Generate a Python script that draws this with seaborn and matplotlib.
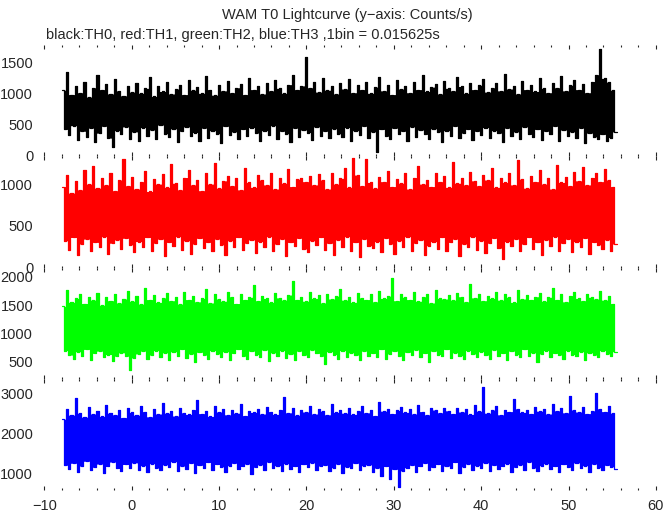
# ==================================
# WAM T0 LIGHTCURVE (4 energy bands)
# ==================================
import numpy as np
import matplotlib
matplotlib.use("Agg")
import matplotlib.pyplot as plt
import seaborn as sns

# ==================================
# DATA (upper / lower envelope per 0.5 s column, counts/s)
# ==================================
t_start = -8.0
t_end = 55.5

th0_hi = [1050, 1340, 980, 1120, 1010, 1180, 940, 1090, 1300, 1060, 1150, 990, 1230, 1040, 960, 1110,
          1020, 1170, 1000, 1080, 1260, 950, 1120, 1030, 1190, 990, 1070, 1140, 980, 1210, 1050, 1100,
          1000, 1280, 1060, 970, 1130, 1040, 1200, 1010, 1090, 1150, 980, 1240, 1060, 1110, 990, 1170,
          1040, 1220, 1080, 1000, 1140, 1300, 1060, 1120, 1580, 1090, 1180, 1020, 1250, 1050, 1110, 990,
          1160, 1070, 1230, 1010, 1130, 1060, 1190, 1000, 1100, 1270, 1040, 1140, 980, 1210, 1070, 1120,
          1010, 1180, 1060, 1290, 1030, 1100, 1150, 990, 1200, 1080, 1040, 1260, 1110, 1000, 1170, 1060,
          1130, 1230, 1020, 1090, 1160, 1040, 1310, 1070, 1120, 990, 1200, 1060, 1140, 1030, 1250, 1080,
          1010, 1170, 1090, 1280, 1040, 1130, 1220, 1060, 1150, 1010, 1190, 1300, 1710, 1240, 1180, 1050]
th0_lo = [420, 330, 480, 250, 390, 300, 440, 210, 360, 470, 280, 130, 400, 340, 460, 270,
          380, 230, 450, 320, 410, 260, 490, 350, 300, 430, 220, 390, 460, 310, 370, 240,
          440, 290, 400, 350, 200, 470, 330, 380, 260, 420, 310, 450, 360, 240, 400, 330,
          480, 270, 390, 350, 220, 440, 300, 410, 370, 250, 460, 320, 390, 280, 430, 350,
          300, 450, 240, 400, 330, 470, 280, 380, 60, 420, 310, 260, 440, 350, 390, 230,
          460, 300, 410, 340, 270, 430, 380, 210, 400, 320, 470, 290, 360, 420, 250, 390,
          330, 450, 280, 400, 360, 220, 440, 310, 380, 270, 460, 340, 300, 420, 250, 390,
          350, 470, 230, 410, 320, 380, 280, 440, 200, 360, 300, 270, 340, 230, 290, 380]

th1_hi = [980, 1120, 900, 1050, 940, 1180, 1010, 1230, 960, 1080, 1000, 1150, 930, 1060, 1310, 990,
          1100, 950, 1040, 1170, 920, 1070, 1010, 1130, 970, 1250, 1020, 940, 1090, 1180, 1000, 1060,
          930, 1140, 1010, 1270, 960, 1050, 1110, 990, 1080, 940, 1200, 1030, 970, 1120, 1060, 1000,
          1150, 950, 1090, 1020, 1190, 980, 1070, 1080, 1040, 1110, 1000, 1130, 1060, 950, 1140, 1010,
          1080, 1210, 970, 1330, 1120, 990, 1320, 1030, 960, 1100, 1040, 1170, 980, 1070, 1020, 1140,
          950, 1090, 1230, 1010, 1060, 980, 1150, 1040, 1110, 970, 1280, 1020, 1080, 1000, 1160, 1050,
          990, 1120, 1060, 1210, 970, 1090, 1030, 1140, 1000, 1300, 1070, 960, 1110, 1040, 1180, 1010,
          1080, 950, 1240, 1030, 1100, 990, 1160, 1050, 1220, 1000, 1090, 1140, 1040, 1190, 1060, 980]
th1_lo = [320, 210, 360, 150, 280, 340, 190, 300, 250, 370, 160, 290, 330, 220, 350, 270,
          180, 310, 240, 360, 200, 290, 340, 130, 300, 260, 370, 210, 320, 160, 280, 350,
          230, 300, 190, 340, 270, 150, 320, 250, 360, 210, 290, 330, 170, 310, 240, 370,
          200, 280, 340, 140, 300, 260, 350, 220, 180, 320, 270, 360, 210, 290, 150, 330,
          250, 370, 200, 300, 120, 340, 260, 230, 310, 180, 350, 280, 160, 320, 240, 370,
          200, 290, 330, 150, 260, 310, 220, 360, 190, 300, 340, 140, 280, 250, 370, 210,
          320, 170, 290, 350, 230, 100, 310, 260, 340, 190, 280, 360, 220, 300, 150, 330,
          260, 370, 200, 290, 340, 180, 310, 240, 350, 160, 300, 270, 220, 330, 190, 280]

th2_hi = [1480, 1760, 1550, 1620, 1700, 1530, 1650, 1590, 1720, 1500, 1640, 1580, 1690, 1540, 1610, 1750,
          1570, 1660, 1520, 1800, 1600, 1680, 1550, 1630, 1710, 1580, 1650, 1520, 1740, 1600, 1670, 1560,
          1620, 1780, 1540, 1690, 1610, 1570, 1730, 1650, 1530, 1700, 1600, 1640, 1850, 1580, 1660, 1620,
          1550, 1710, 1630, 1590, 1680, 1920, 1600, 1650, 1570, 1740, 1620, 1680, 1540, 1700, 1610, 1660,
          1780, 1590, 1640, 1550, 1720, 1630, 1600, 1690, 1560, 1750, 1620, 1660, 1980, 1580, 1700, 1640,
          1600, 1730, 1570, 1650, 1690, 1540, 1760, 1620, 1610, 1680, 1590, 1720, 1650, 1560, 1880, 1630,
          1700, 1580, 1660, 1620, 1740, 1590, 1690, 1640, 1550, 1770, 1610, 1680, 1600, 1650, 1720, 1570,
          1640, 1810, 1600, 1690, 1560, 1670, 1730, 1620, 1580, 1700, 1640, 1610, 1750, 1590, 1660, 1530]
th2_lo = [700, 620, 560, 680, 600, 720, 540, 650, 690, 580, 630, 520, 600, 660, 600, 360,
          570, 640, 690, 550, 620, 700, 590, 660, 530, 680, 610, 720, 570, 640, 500, 670,
          620, 560, 700, 640, 590, 680, 530, 650, 720, 600, 560, 690, 630, 580, 710, 520,
          660, 610, 700, 570, 640, 540, 690, 620, 580, 710, 650, 600, 470, 680, 630, 560,
          700, 590, 660, 620, 540, 690, 610, 650, 580, 720, 560, 640, 690, 600, 530, 670,
          620, 710, 580, 650, 500, 690, 630, 600, 720, 570, 660, 610, 550, 700, 640, 590,
          680, 620, 560, 710, 600, 650, 540, 690, 630, 580, 720, 610, 660, 490, 640, 700,
          590, 650, 620, 560, 700, 630, 600, 680, 540, 660, 620, 580, 700, 640, 600, 680]

th3_hi = [2350, 2600, 2450, 2880, 2500, 2400, 2650, 2480, 2550, 2420, 2700, 2500, 2460, 2580, 2390, 2620,
          2520, 2450, 2680, 2540, 2410, 2600, 2480, 2750, 2500, 2560, 2430, 2640, 2510, 2470, 2590, 2820,
          2490, 2550, 2420, 2670, 2530, 2600, 2460, 2580, 2500, 2720, 2440, 2560, 2520, 2610, 2480, 2650,
          2540, 2470, 2590, 2900, 2510, 2630, 2450, 2570, 2530, 2690, 2480, 2600, 2550, 2460, 2740, 2520,
          2580, 2500, 2620, 2470, 2560, 2680, 2510, 2590, 2440, 2780, 2550, 2610, 2490, 2570, 2650, 2520,
          2600, 2480, 2700, 2540, 2460, 2620, 2580, 2510, 2620, 2560, 2490, 2640, 2530, 2600, 2470, 2710,
          2550, 3150, 2500, 2580, 2680, 2460, 2590, 2540, 2850, 2610, 2520, 2570, 2490, 2660, 2550, 2600,
          2480, 2720, 2560, 2620, 2510, 2940, 2580, 2530, 2650, 2490, 2560, 3000, 2610, 2540, 2680, 2500]
th3_lo = [1200, 1100, 1250, 1020, 1180, 1300, 1080, 1150, 1230, 1000, 1170, 1280, 1120, 1060, 1220, 1140,
          1260, 1090, 1190, 1030, 1240, 1130, 1070, 1210, 1160, 1290, 1050, 1180, 1110, 1250, 1010, 1200,
          1140, 1270, 1080, 1220, 1160, 1040, 1190, 1250, 1100, 1170, 1230, 980, 1150, 1210, 1070, 1280,
          1130, 1190, 1060, 1240, 1110, 1170, 1020, 1220, 1150, 1260, 1090, 1180, 1200, 1050, 1140, 1230,
          1000, 1160, 1120, 1250, 1080, 1190, 1210, 1040, 1130, 930, 1170, 850, 1100, 660, 1060, 1140,
          1200, 1030, 1170, 1250, 1090, 1150, 1220, 1060, 1180, 1120, 1270, 1010, 1160, 1230, 1080, 1190,
          1140, 1260, 1050, 1200, 1110, 1170, 1240, 1020, 1150, 1210, 1090, 1280, 1130, 1060, 1190, 1240,
          1100, 1170, 1030, 1220, 1150, 1080, 1260, 1120, 1190, 1040, 1230, 1140, 1070, 1200, 1160, 1110]

panels = [
    (th0_hi, th0_lo, "#000000", (-10, 1780), [0, 500, 1000, 1500]),
    (th1_hi, th1_lo, "#ff0000", (-6, 1350), [0, 500, 1000]),
    (th2_hi, th2_lo, "#00ff00", (200, 2165), [500, 1000, 1500, 2000]),
    (th3_hi, th3_lo, "#0000ff", (576, 3356), [1000, 2000, 3000]),
]

# ==================================
# STYLE
# ==================================
sns.set_style("white")
plt.rcParams["font.family"] = ["Liberation Sans", "DejaVu Sans"]
plt.rcParams["axes.unicode_minus"] = True

fig, axes = plt.subplots(4, 1, figsize=(6.72, 5.15), dpi=100, sharex=True,
                         gridspec_kw=dict(hspace=0))
fig.subplots_adjust(left=0.066, right=0.976, top=0.913, bottom=0.048)

# ==================================
# DRAW PANELS
# ==================================
for ax, (hi, lo, col, ylim, yt) in zip(axes, panels):
    vals = np.column_stack([hi, lo]).ravel().astype(float)
    t = np.linspace(t_start, t_end, len(vals) + 1)
    # solid core: part of each bin covered by both neighbouring jumps
    prev = np.r_[vals[0], vals[:-1]]
    nxt = np.r_[vals[1:], vals[-1]]
    upper = np.minimum(np.maximum(prev, vals), np.maximum(vals, nxt))
    lower = np.maximum(np.minimum(prev, vals), np.minimum(vals, nxt))
    ax.fill_between(t, np.r_[lower, lower[-1]], np.r_[upper, upper[-1]],
                    step="post", color=col, linewidth=0)
    sns.lineplot(x=t, y=np.r_[vals, vals[-1]], ax=ax, color=col, linewidth=0.9,
                 drawstyle="steps-post", estimator=None, sort=False)
    ax.set_xlim(-10, 60)
    ax.set_ylim(*ylim)
    ax.set_yticks(yt)
    for s in ax.spines.values():
        s.set_visible(False)
    ax.set_xticks(range(-10, 61, 10))
    ax.set_xticks(range(-10, 61, 2), minor=True)
    ax.tick_params(axis="x", which="major", direction="in", length=3, width=0.8,
                   top=True, bottom=True, labelsize=10.5, pad=6)
    ax.tick_params(axis="x", which="minor", direction="in", length=1.2, width=0.8,
                   top=True, bottom=True)
    ax.tick_params(axis="y", length=0, labelsize=10.5, pad=8)
    ax.set_xlabel("")
    ax.set_ylabel("")
    ax.patch.set_alpha(0)

for ax in axes[:-1]:
    ax.tick_params(axis="x", labelbottom=False)

fig.text(0.517, 0.971, "WAM T0 Lightcurve (y\u2212axis: Counts/s)",
         ha="center", va="center", fontsize=10.5)
fig.text(0.068, 0.932, "black:TH0, red:TH1, green:TH2, blue:TH3 ,1bin = 0.015625s",
         ha="left", va="center", fontsize=10.5)

plt.savefig("out.png", dpi=100)
